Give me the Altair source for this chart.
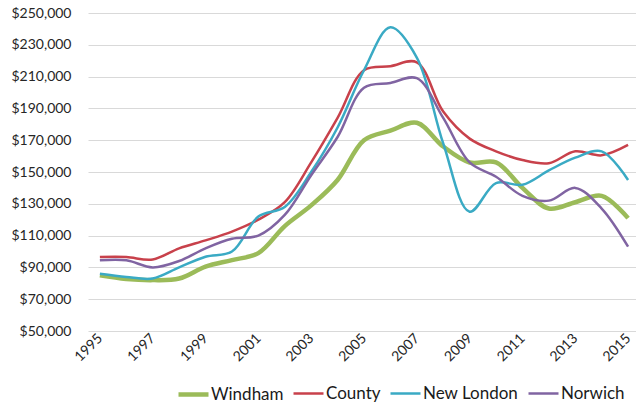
import altair as alt
import pandas as pd

# Median home sale price by year
years = list(range(1995, 2016))
windham = [85000, 82700, 82000, 83000, 90500, 94600, 99000, 116000, 129000, 145000,
           170000, 176000, 181000, 166000, 156000, 156000, 140000, 127000, 131000, 135000, 121000]
county = [96500, 96500, 95000, 102000, 107000, 112500, 120000, 131000, 156000, 184000,
          214000, 216500, 219000, 188000, 171000, 163000, 157500, 155500, 163000, 160500, 167000]
new_london = [86000, 84000, 83000, 90000, 96700, 100000, 122000, 128000, 150000, 178000,
              214000, 241000, 222000, 168000, 125000, 143000, 142000, 151000, 159000, 163000, 145000]
norwich = [94500, 94500, 90000, 94000, 102000, 108000, 110000, 123000, 148000, 172000,
           203000, 206000, 209000, 184000, 156000, 147000, 135000, 132000, 140000, 127000, 103000]

series_names = ["Windham", "County", "New London", "Norwich"]
series_colors = ["#9BBB59", "#C8414B", "#3AAAC4", "#8064A2"]
series_widths = [4.5, 2.5, 2.5, 2.5]
tick_years = list(range(1995, 2016, 2))
y_ticks = list(range(50000, 250001, 20000))

rows = []
for name, vals in zip(series_names, [windham, county, new_london, norwich]):
    for yr, v in zip(years, vals):
        rows.append({"year": yr, "price": v, "series": name})
df = pd.DataFrame(rows)

FONT = "Lato"

legend_opts = dict(
    title=None, orient="none", direction="horizontal", columns=4,
    legendX=88, legendY=364, symbolType="stroke", symbolSize=900,
    labelFontSize=17, labelFont=FONT, labelColor="#1a1a1a",
    labelOffset=0, columnPadding=4, gridAlign="none",
)

chart = alt.Chart(df).mark_line(interpolate="catmull-rom").encode(
    x=alt.X(
        "year:Q",
        scale=alt.Scale(domain=[1994.55, 2015.3], nice=False, zero=False),
        axis=alt.Axis(
            values=tick_years, format="d", title=None, grid=False, domain=False,
            ticks=False, labelAngle=-45, labelAlign="right", labelBaseline="middle",
            labelPadding=5, labelFontSize=14, labelFont=FONT, labelColor="#262626",
        ),
    ),
    y=alt.Y(
        "price:Q",
        scale=alt.Scale(domain=[50000, 250000], nice=False),
        axis=alt.Axis(
            values=y_ticks, format="$,.0f", title=None, domain=False, ticks=False,
            gridColor="#D9D9D9", gridWidth=1, labelPadding=17, labelFontSize=14,
            labelFont=FONT, labelColor="#262626",
        ),
    ),
    color=alt.Color(
        "series:N",
        scale=alt.Scale(domain=series_names, range=series_colors),
        legend=alt.Legend(**legend_opts),
    ),
    strokeWidth=alt.StrokeWidth(
        "series:N",
        scale=alt.Scale(type="ordinal", domain=series_names, range=series_widths),
        legend=alt.Legend(**legend_opts),
    ),
).properties(
    width=548,
    height=318,
    autosize=alt.AutoSizeParams(type="none"),
    padding={"left": 88, "top": 13, "right": 0, "bottom": 73},
).configure_view(stroke=None)

chart.save("out.html", embed_options={"renderer": "svg", "actions": False})
